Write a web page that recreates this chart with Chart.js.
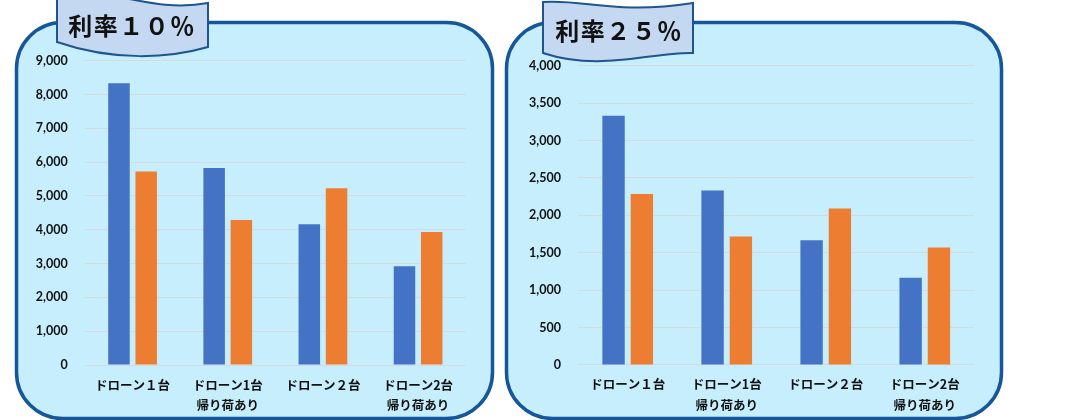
<!DOCTYPE html>
<html lang="ja">
<head>
<meta charset="utf-8">
<script src="https://cdn.jsdelivr.net/npm/chart.js@4.4.1/dist/chart.umd.min.js"></script>
<style>
  html, body { margin: 0; padding: 0; background: #fff; }
  #stage { position: relative; width: 1069px; height: 420px; overflow: hidden; }
  #stage svg, #stage canvas { position: absolute; top: 0; }
  #panels { left: 0; z-index: 0; }
  #banners { left: 0; z-index: 2; }
  #chart10 { left: 0; z-index: 1; }
  #chart25 { left: 500px; z-index: 1; }
</style>
</head>
<body>
<div id="stage">
  <svg id="panels" width="1069" height="420">
    <rect x="16.5" y="22.5" width="476" height="396" rx="46" ry="46" fill="#c6eefd" stroke="#16569a" stroke-width="3.5"/>
    <rect x="506.5" y="22.5" width="495" height="396" rx="46" ry="46" fill="#c6eefd" stroke="#16569a" stroke-width="3.5"/>
  </svg>
  <canvas id="chart10" width="500" height="420"></canvas>
  <canvas id="chart25" width="569" height="420"></canvas>
  <svg id="banners" width="1069" height="420">
    <path d="M57,-6 C105,-16 150,14 208,3 L208,47 C170,58 115,62 57,42 Z" fill="#c4d8f1" stroke="#1f558f" stroke-width="2"/>
    <text x="132" y="24" text-anchor="middle" dominant-baseline="central" font-family="Noto Sans CJK JP" font-weight="bold" font-size="24" letter-spacing="1.5" fill="#111">利率１０％</text>
    <path d="M543,2 C585,-1 615,15 693,3 L693,53 C650,52 600,72 543,53 Z" fill="#c4d8f1" stroke="#1f558f" stroke-width="2"/>
    <text x="619" y="29" text-anchor="middle" dominant-baseline="central" font-family="Noto Sans CJK JP" font-weight="bold" font-size="24" letter-spacing="1.5" fill="#111">利率２５％</text>
  </svg>
</div>
<script>
const categories = [
  ["ドローン１台"],
  ["ドローン1台", "帰り荷あり"],
  ["ドローン２台"],
  ["ドローン2台", "帰り荷あり"],
];

// 利率10%
const blue10 = [8330, 5830, 4160, 2920];
const orange10 = [5720, 4290, 5230, 3930];
const ticks10 = [0, 1000, 2000, 3000, 4000, 5000, 6000, 7000, 8000, 9000];

// 利率25%
const blue25 = [3330, 2330, 1665, 1165];
const orange25 = [2285, 1715, 2090, 1570];
const ticks25 = [0, 500, 1000, 1500, 2000, 2500, 3000, 3500, 4000];

const BLUE = "#4472c4";
const ORANGE = "#ed7d31";
const GRID = "#d6dadc";

function buildConfig(blue, orange, ticks, box) {
  return {
    type: "bar",
    data: {
      labels: categories,
      datasets: [
        { data: blue, backgroundColor: BLUE },
        { data: orange, backgroundColor: ORANGE },
      ],
    },
    options: {
      responsive: false,
      animation: false,
      devicePixelRatio: 1,
      categoryPercentage: 0.572,
      barPercentage: 0.79,
      layout: {
        padding: { left: box.left, right: box.right, top: box.top, bottom: 0 },
      },
      plugins: {
        legend: { display: false },
        tooltip: { enabled: false },
      },
      scales: {
        x: {
          grid: { display: false, drawTicks: false },
          border: { display: false },
          ticks: {
            padding: 9.5,
            color: "#111",
            font: { family: "Noto Sans CJK JP", weight: "bold", size: 12.5, lineHeight: 1.64 },
          },
          afterFit: (scale) => {
            scale.height = box.xHeight;
          },
        },
        y: {
          min: ticks[0],
          max: ticks[ticks.length - 1],
          grid: { color: GRID, lineWidth: 1, drawTicks: false },
          border: { display: false },
          afterBuildTicks: (scale) => {
            scale.ticks = ticks.map((v) => ({ value: v }));
          },
          ticks: {
            padding: 17.3,
            color: "#111",
            font: { family: "Lato", weight: "bold", size: 12.5 },
            callback: (v) => Number(v).toLocaleString("en-US"),
          },
          afterFit: (scale) => {
            scale.width = box.yWidth;
          },
        },
      },
    },
  };
}

new Chart(
  document.getElementById("chart10"),
  buildConfig(blue10, orange10, ticks10, { left: 15, yWidth: 70, right: 34.3, top: 60.7, xHeight: 55 })
);

new Chart(
  document.getElementById("chart25"),
  buildConfig(blue25, orange25, ticks25, { left: 8.2, yWidth: 70, right: 94.7, top: 65.7, xHeight: 55.1 })
);
</script>
</body>
</html>
